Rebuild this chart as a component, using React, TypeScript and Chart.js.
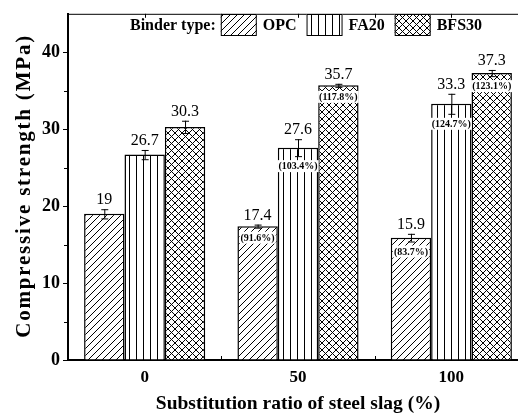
import React, { useEffect, useRef } from 'react';
import { Chart, registerables } from 'chart.js';

Chart.register(...registerables);

const categories = ['0', '50', '100'];
const seriesNames = ['OPC', 'FA20', 'BFS30'];
const opcValues = [19, 17.4, 15.9];
const fa20Values = [26.7, 27.6, 33.3];
const bfs30Values = [30.3, 35.7, 37.3];
const opcErrors = [0.6, 0.2, 0.5];
const fa20Errors = [0.6, 1.1, 1.3];
const bfs30Errors = [0.8, 0.2, 0.4];
const opcValueLabels = ['19', '17.4', '15.9'];
const fa20ValueLabels = ['26.7', '27.6', '33.3'];
const bfs30ValueLabels = ['30.3', '35.7', '37.3'];
const opcPercents = ['', '(91.6%)', '(83.7%)'];
const fa20Percents = ['', '(103.4%)', '(124.7%)'];
const bfs30Percents = ['', '(117.8%)', '(123.1%)'];
const yMinorTicks = [5, 15, 25, 35];
const legendTitle = 'Binder type:';
const xTitle = 'Substitution ratio of steel slag (%)';
const yTitle = 'Compressive strength (MPa)';

const SERIF = '"Liberation Serif", "Times New Roman", serif';

function makePattern(kind: string): CanvasPattern | string {
  const s = 7;
  const c = document.createElement('canvas');
  c.width = s;
  c.height = s;
  const g = c.getContext('2d');
  if (!g) return '#fff';
  g.fillStyle = '#fff';
  g.fillRect(0, 0, s, s);
  g.strokeStyle = '#000';
  g.lineWidth = 1;
  const up = () => {
    g.beginPath();
    g.moveTo(-1, s + 1);
    g.lineTo(s + 1, -1);
    g.moveTo(-1, 1);
    g.lineTo(1, -1);
    g.moveTo(s - 1, s + 1);
    g.lineTo(s + 1, s - 1);
    g.stroke();
  };
  const down = () => {
    g.beginPath();
    g.moveTo(-1, -1);
    g.lineTo(s + 1, s + 1);
    g.moveTo(s - 1, -1);
    g.lineTo(s + 1, 1);
    g.moveTo(-1, s - 1);
    g.lineTo(1, s + 1);
    g.stroke();
  };
  if (kind === 'diag') up();
  if (kind === 'vert') {
    g.beginPath();
    g.moveTo(3.5, 0);
    g.lineTo(3.5, s);
    g.stroke();
  }
  if (kind === 'cross') {
    up();
    down();
  }
  const p = g.createPattern(c, 'repeat');
  return p || '#fff';
}

const errorLabelPlugin = {
  id: 'errorLabels',
  afterDatasetsDraw(chart: any) {
    const ctx = chart.ctx;
    const y = chart.scales.y;
    ctx.save();
    chart.data.datasets.forEach((ds: any, di: number) => {
      const meta = chart.getDatasetMeta(di);
      meta.data.forEach((bar: any, i: number) => {
        const v = ds.data[i];
        const e = ds.errors[i];
        const x = bar.x;
        const yt = y.getPixelForValue(v + e);
        const yb = y.getPixelForValue(v - e);
        ctx.strokeStyle = '#000';
        ctx.lineWidth = 1;
        ctx.beginPath();
        ctx.moveTo(x + 0.5, yt);
        ctx.lineTo(x + 0.5, yb);
        ctx.moveTo(x - 3, yt + 0.5);
        ctx.lineTo(x + 4, yt + 0.5);
        ctx.moveTo(x - 3, yb + 0.5);
        ctx.lineTo(x + 4, yb + 0.5);
        ctx.stroke();

        ctx.fillStyle = '#000';
        ctx.textAlign = 'center';
        ctx.textBaseline = 'middle';
        ctx.font = `16px ${SERIF}`;
        ctx.fillText(ds.valueLabels[i], x, yt - 9);

        const pct = ds.percents[i];
        if (pct) {
          ctx.font = `bold 10px ${SERIF}`;
          const w = ctx.measureText(pct).width;
          const py = Math.max(y.getPixelForValue(v) + 11, yb + 10);
          ctx.fillStyle = '#fff';
          ctx.fillRect(x - w / 2 - 1, py - 6, w + 2, 12);
          ctx.fillStyle = '#000';
          ctx.fillText(pct, x, py + 0.5);
        }
      });
    });
    ctx.restore();
  },
};

const framePlugin = {
  id: 'frame',
  afterDraw(chart: any) {
    const ctx = chart.ctx;
    const { left, right, top, bottom } = chart.chartArea;
    const xs = chart.scales.x;
    const ys = chart.scales.y;
    ctx.save();
    ctx.strokeStyle = '#000';
    ctx.lineWidth = 1;
    ctx.beginPath();
    ctx.moveTo(left - 1, top + 0.5);
    ctx.lineTo(right, top + 0.5);
    const centers = categories.map((_, i) => xs.getPixelForValue(i));
    const bounds: number[] = [];
    for (let i = 0; i < centers.length - 1; i++) bounds.push((centers[i] + centers[i + 1]) / 2);
    [...centers, ...bounds].forEach((px) => {
      const xx = Math.round(px) + 0.5;
      ctx.moveTo(xx, top);
      ctx.lineTo(xx, top + 4);
    });
    bounds.forEach((px) => {
      const xx = Math.round(px) + 0.5;
      ctx.moveTo(xx, bottom);
      ctx.lineTo(xx, bottom - 4);
    });
    yMinorTicks.forEach((v) => {
      const yy = Math.round(ys.getPixelForValue(v)) + 0.5;
      ctx.moveTo(left - 4, yy);
      ctx.lineTo(left, yy);
    });
    ctx.stroke();

    // y-axis title
    ctx.translate(25, (top + bottom) / 2);
    ctx.rotate(-Math.PI / 2);
    ctx.font = `bold 21px ${SERIF}`;
    (ctx as any).letterSpacing = '1.8px';
    ctx.fillStyle = '#000';
    ctx.textAlign = 'center';
    ctx.textBaseline = 'middle';
    ctx.fillText(yTitle, 1, 0);
    ctx.restore();
  },
};

const legendPlugin = {
  id: 'customLegend',
  afterDraw(chart: any) {
    const ctx = chart.ctx;
    ctx.save();
    ctx.font = `bold 16px ${SERIF}`;
    ctx.fillStyle = '#000';
    ctx.textBaseline = 'middle';
    ctx.textAlign = 'left';
    const cy = 26;
    let x = 130;
    ctx.fillText(legendTitle, x, cy);
    x += ctx.measureText(legendTitle).width + 5;
    chart.data.datasets.forEach((ds: any) => {
      ctx.fillStyle = ds.backgroundColor;
      ctx.fillRect(x, 14, 36, 22);
      ctx.strokeStyle = '#000';
      ctx.lineWidth = 1;
      ctx.strokeRect(x + 0.5, 14.5, 35, 21);
      x += 36 + 6;
      ctx.fillStyle = '#000';
      ctx.fillText(ds.label, x, cy);
      x += ctx.measureText(ds.label).width + 10;
    });
    ctx.restore();
  },
};

export default function App() {
  const ref = useRef<HTMLCanvasElement | null>(null);

  useEffect(() => {
    const canvas = ref.current;
    if (!canvas) return;
    const ctx = canvas.getContext('2d');
    if (!ctx) return;
    const kinds = ['diag', 'vert', 'cross'];
    const values = [opcValues, fa20Values, bfs30Values];
    const errors = [opcErrors, fa20Errors, bfs30Errors];
    const vlabels = [opcValueLabels, fa20ValueLabels, bfs30ValueLabels];
    const percents = [opcPercents, fa20Percents, bfs30Percents];

    const chart = new Chart(ctx, {
      type: 'bar',
      data: {
        labels: categories,
        datasets: seriesNames.map((name, i) => ({
          label: name,
          data: values[i],
          errors: errors[i],
          valueLabels: vlabels[i],
          percents: percents[i],
          backgroundColor: makePattern(kinds[i]),
          borderColor: '#000',
          borderWidth: 1.5,
          barPercentage: 1,
          categoryPercentage: 0.79,
        })) as any,
      },
      options: {
        responsive: false,
        animation: false,
        devicePixelRatio: 1,
        layout: { padding: { left: 0, right: 12, top: 10, bottom: 0 } },
        plugins: {
          legend: { display: false },
          tooltip: { enabled: false },
        },
        scales: {
          x: {
            type: 'category',
            offset: true,
            grid: { display: false, drawTicks: false, offset: true },
            border: { display: true, color: '#000', width: 2 },
            ticks: {
              color: '#000',
              padding: 7,
              font: { family: SERIF, size: 17, weight: 'bold' },
            },
            title: {
              display: true,
              text: xTitle,
              color: '#000',
              font: { family: SERIF, size: 19.5, weight: 'bold' },
              padding: { top: 0, bottom: 2 },
            },
            afterFit: (scale: any) => {
              scale.height = 58;
            },
          },
          y: {
            min: 0,
            max: 45,
            grid: {
              drawOnChartArea: false,
              drawTicks: true,
              tickLength: 5,
              tickColor: '#000',
              color: '#000',
            },
            border: { display: true, color: '#000', width: 2 },
            ticks: {
              stepSize: 10,
              includeBounds: false,
              color: '#000',
              padding: 3,
              font: { family: SERIF, size: 18, weight: 'bold' },
            },
            title: { display: false },
            afterFit: (scale: any) => {
              scale.width = 68;
            },
          },
        },
      } as any,
      plugins: [errorLabelPlugin, framePlugin, legendPlugin],
    });
    return () => chart.destroy();
  }, []);

  return (
    <div
      style={{
        position: 'fixed',
        left: 0,
        top: 0,
        width: 518,
        height: 418,
        overflow: 'hidden',
        background: '#fff',
      }}
    >
      <canvas ref={ref} width={540} height={418} style={{ display: 'block', width: 540, height: 418 }} />
    </div>
  );
}
